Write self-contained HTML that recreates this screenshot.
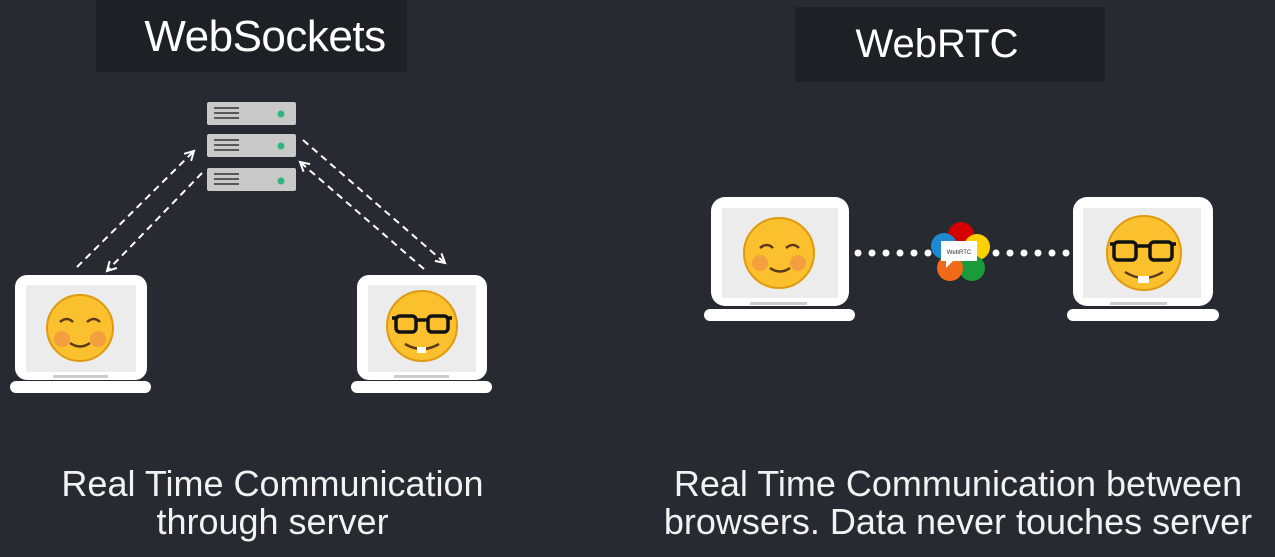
<!DOCTYPE html>
<html><head><style>
body{margin:0;width:1275px;height:557px;background:#272a31;overflow:hidden;font-family:"Liberation Sans",sans-serif;position:relative}
.box{position:absolute;background:#1e2025}
.t{position:absolute;color:#fff;text-align:center;white-space:nowrap}
</style></head><body>
<div class="box" style="left:96px;top:0;width:311px;height:72px"></div>
<div class="t" style="left:65px;width:400px;top:12px;font-size:44px;letter-spacing:-0.5px">WebSockets</div>
<div class="box" style="left:795px;top:7px;width:310px;height:75px"></div>
<div class="t" style="left:837px;width:200px;top:22px;font-size:40px">WebRTC</div>
<svg width="1275" height="557" style="position:absolute;left:0;top:0">
<defs><marker id="a" markerWidth="12" markerHeight="12" refX="10" refY="6" orient="auto" markerUnits="userSpaceOnUse"><path d="M1,1 L10,6 L1,11" fill="none" stroke="#fff" stroke-width="2"/></marker></defs>
<g fill="#c9c9c9">
<rect x="207" y="102" width="89" height="23" rx="2"/><rect x="207" y="134" width="89" height="23" rx="2"/><rect x="207" y="168" width="89" height="23" rx="2"/></g>
<g stroke="#333" stroke-width="1.5">
<path d="M214 108h25M214 113h25M214 118h25M214 140h25M214 145h25M214 150h25M214 174h25M214 179h25M214 184h25"/></g>
<g fill="#2fb67c"><circle cx="281" cy="114" r="3.5"/><circle cx="281" cy="146" r="3.5"/><circle cx="281" cy="181" r="3.5"/></g>
<g stroke="#fff" stroke-width="2" stroke-dasharray="7,5" fill="none">
<line x1="77" y1="267" x2="194" y2="151" marker-end="url(#a)"/>
<line x1="202" y1="173" x2="107" y2="271" marker-end="url(#a)"/>
<line x1="303" y1="140" x2="445" y2="263" marker-end="url(#a)"/>
<line x1="424" y1="269" x2="300" y2="162" marker-end="url(#a)"/>
</g>
<g fill="#fff">
<rect x="15" y="275" width="132" height="105" rx="12"/><rect x="10" y="381" width="141" height="12" rx="6"/>
<rect x="357" y="275" width="130" height="105" rx="12"/><rect x="351" y="381" width="141" height="12" rx="6"/>
<rect x="711" y="197" width="138" height="109" rx="14"/><rect x="704" y="309" width="151" height="12" rx="6"/>
<rect x="1073" y="197" width="140" height="109" rx="14"/><rect x="1067" y="309" width="152" height="12" rx="6"/>
</g>
<g fill="#ececec">
<rect x="26" y="285" width="110" height="87"/><rect x="368" y="285" width="108" height="87"/>
<rect x="722" y="208" width="116" height="90"/><rect x="1083" y="208" width="118" height="90"/></g>
<g fill="#ccc"><rect x="53" y="375" width="55" height="3"/><rect x="394" y="375" width="55" height="3"/><rect x="750" y="302" width="57" height="3"/><rect x="1110" y="302" width="57" height="3"/></g>
<g fill="#fbc02d" stroke="#e09a10" stroke-width="2">
<circle cx="80" cy="328" r="33"/><circle cx="422" cy="326" r="35"/><circle cx="779" cy="253" r="35"/><circle cx="1144" cy="253" r="37"/></g>
<g fill="#f08a4b" opacity=".6"><circle cx="62" cy="339" r="8"/><circle cx="98" cy="339" r="8"/><circle cx="760" cy="263" r="8"/><circle cx="798" cy="263" r="8"/></g>
<g stroke="#5a3a1a" stroke-width="2.5" fill="none">
<path d="M60 322q7-6 13 0M87 322q7-6 13 0M70 343q10 7 20 0M760 248q7-6 13 0M786 248q7-6 13 0M770 268q10 7 20 0"/></g>
<g stroke="#111" stroke-width="3.5" fill="none">
<rect x="396" y="316" width="20" height="16" rx="4"/><rect x="428" y="316" width="20" height="16" rx="4"/><path d="M392 318h4M416 320h12M448 318h4"/>
<rect x="1114" y="242" width="22" height="18" rx="4"/><rect x="1150" y="242" width="22" height="18" rx="4"/><path d="M1110 244h4M1136 246h14M1172 244h4"/></g>
<path d="M405 344q17 10 34 0" stroke="#5a3a1a" stroke-width="2.5" fill="none"/>
<path d="M1125 272q19 12 38 0" stroke="#5a3a1a" stroke-width="2.5" fill="none"/>
<g fill="#fff"><rect x="417" y="347" width="9" height="6"/><rect x="1138" y="276" width="11" height="7"/></g>
<g fill="#fff">
<circle cx="858" cy="253" r="3.5"/><circle cx="872" cy="253" r="3.5"/><circle cx="886" cy="253" r="3.5"/><circle cx="900" cy="253" r="3.5"/><circle cx="914" cy="253" r="3.5"/><circle cx="928" cy="253" r="3.5"/>
<circle cx="996" cy="253" r="3.5"/><circle cx="1010" cy="253" r="3.5"/><circle cx="1024" cy="253" r="3.5"/><circle cx="1038" cy="253" r="3.5"/><circle cx="1052" cy="253" r="3.5"/><circle cx="1066" cy="253" r="3.5"/></g>
<circle cx="961" cy="235" r="13" fill="#d50000"/>
<circle cx="977" cy="247" r="13" fill="#fdd000"/>
<circle cx="972" cy="268" r="13" fill="#1a9a3a"/>
<circle cx="950" cy="268" r="13" fill="#f06a1a"/>
<circle cx="944" cy="246" r="13" fill="#1e88d0"/>
<rect x="941" y="241" width="36" height="20" fill="#fff"/><path d="M946 260l0 8 8-8z" fill="#fff"/>
<text x="959" y="254" font-size="6" text-anchor="middle" fill="#333" font-family="Liberation Sans">WebRTC</text>
</svg>
<div class="t" style="left:0;width:545px;top:465px;font-size:36px;line-height:38px;color:#f2f2f2">Real Time Communication<br>through server</div>
<div class="t" style="left:640px;width:636px;top:465px;font-size:36px;line-height:38px;color:#f2f2f2">Real Time Communication between<br>browsers. Data never touches server</div>
</body></html>
